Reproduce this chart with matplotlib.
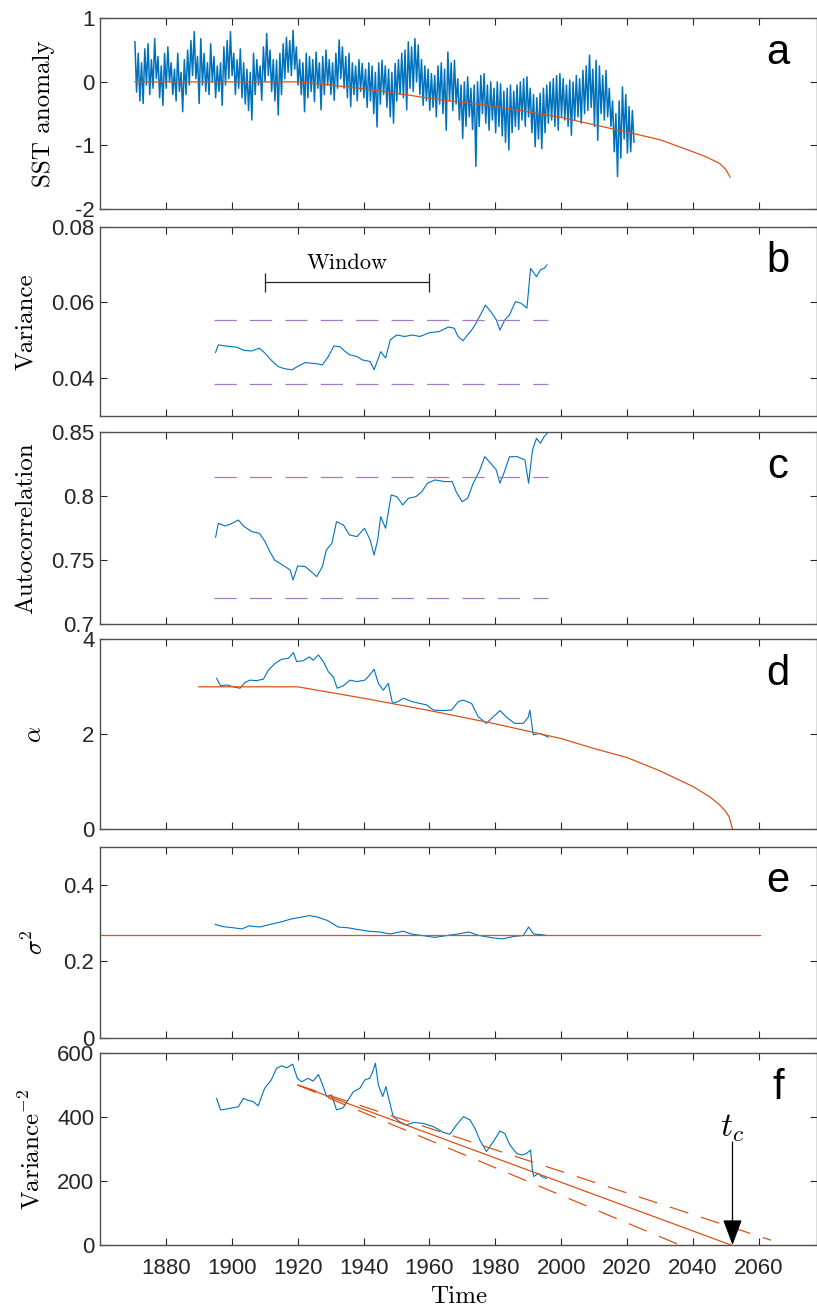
import numpy as np
import matplotlib.pyplot as plt

plt.rcParams['font.family'] = 'Liberation Sans'
plt.rcParams['mathtext.fontset'] = 'cm'
plt.rcParams['axes.unicode_minus'] = False
plt.rcParams['lines.scale_dashes'] = False

BLUE = '#0072BD'
ORANGE = '#D95319'
PURPLE = '#A47BC0'

# (a) SST anomaly: upper / lower swing read for each year, 1870.6 .. 2021
sst = [
    0.63, -0.16, 0.45, -0.30, 0.30, -0.34, 0.52, -0.05, 0.60, -0.20, 0.35, -0.10, 0.68, 0.05, 0.40, -0.25, 0.25, -0.37, 0.45, -0.10,
    0.55, 0.00, 0.30, -0.20, 0.20, -0.30, 0.45, -0.15, 0.15, -0.47, 0.35, -0.20, 0.50, -0.05, 0.65, 0.10, 0.79, 0.05, 0.40, -0.34,
    0.68, -0.05, 0.45, -0.15, 0.30, -0.20, 0.60, 0.00, 0.40, -0.25, 0.25, -0.15, 0.30, -0.37, 0.55, -0.05, 0.65, 0.05, 0.79, 0.10,
    0.45, -0.20, 0.35, -0.10, 0.52, -0.25, 0.30, -0.35, 0.20, -0.45, 0.15, -0.60, 0.45, -0.20, 0.35, -0.05, 0.25, -0.29, 0.55, 0.00,
    0.76, 0.10, 0.50, -0.15, 0.35, -0.30, 0.34, -0.52, 0.45, -0.20, 0.60, 0.05, 0.70, 0.15, 0.65, 0.10, 0.81, 0.20, 0.55, -0.05,
    0.35, -0.20, 0.30, -0.47, 0.45, -0.25, 0.40, -0.15, 0.35, -0.31, 0.47, -0.10, 0.30, -0.44, 0.40, -0.20, 0.50, -0.05, 0.35, -0.20,
    0.30, -0.29, 0.45, -0.10, 0.66, 0.05, 0.55, -0.10, 0.40, -0.25, 0.45, -0.39, 0.30, -0.20, 0.25, -0.30, 0.35, -0.15, 0.29, -0.25,
    0.20, -0.40, 0.30, -0.30, 0.25, -0.50, 0.15, -0.71, 0.30, -0.35, 0.34, -0.20, 0.25, -0.40, 0.20, -0.55, 0.15, -0.65, 0.29, -0.30,
    0.35, -0.20, 0.45, -0.25, 0.50, -0.44, 0.63, -0.10, 0.55, -0.15, 0.68, 0.00, 0.58, -0.20, 0.35, -0.37, 0.25, -0.30, 0.20, -0.45,
    0.13, -0.40, 0.10, -0.55, 0.25, -0.35, 0.30, -0.50, 0.20, -0.76, 0.47, -0.30, 0.30, -0.45, 0.34, -0.35, 0.05, -0.60, -0.05, -0.89,
    0.00, -0.70, 0.08, -0.55, -0.10, -0.75, -0.05, -1.33, 0.00, -0.70, 0.10, -0.50, 0.13, -0.65, -0.05, -0.76, 0.00, -0.60, -0.10, -0.80,
    0.00, -0.70, -0.03, -0.85, -0.15, -0.95, -0.10, -1.07, -0.05, -0.80, -0.15, -0.70, -0.05, -0.75, 0.00, -0.60, 0.05, -0.70, 0.08, -0.55,
    -0.10, -0.80, -0.20, -1.02, -0.25, -0.90, -0.18, -1.05, -0.10, -0.80, -0.05, -0.65, 0.00, -0.60, 0.05, -0.70, 0.10, -0.76, 0.13, -0.55,
    0.05, -0.60, -0.05, -0.70, 0.03, -0.84, 0.00, -0.60, 0.10, -0.55, 0.05, -0.65, 0.18, -0.50, 0.25, -0.45, 0.42, -0.40, 0.20, -0.70,
    0.34, -0.92, 0.25, -0.50, 0.10, -0.60, 0.18, -0.55, -0.10, -0.70, -0.30, -1.10, -0.50, -1.49, -0.30, -1.20, -0.08, -0.90, -0.20, -1.12,
    -0.39, -1.10, -0.45, -0.95,
]
sst_start = 1870.6
trend_years = [1870.6, 1900, 1920, 1930, 1940, 1954, 1960, 1978, 1984, 2000, 2020, 2030, 2040, 2044, 2048, 2050, 2051.3]
trend_sst = [0, 0, 0, -0.05, -0.11, -0.21, -0.26, -0.37, -0.42, -0.56, -0.79, -0.91, -1.10, -1.18, -1.28, -1.38, -1.50]

# (b) variance
var_years = [1895.1, 1895.9, 1898, 1901.4, 1903.8, 1906.1, 1908.4, 1910.1, 1911.9, 1914, 1915.9, 1918.3, 1920,
             1922.3, 1925.8, 1927.5, 1929.3, 1931, 1932.8, 1934.5, 1935.7, 1938, 1939.7, 1942, 1943.2, 1944.3,
             1945.2, 1946.7, 1948.1, 1950.1, 1952.5, 1954.8, 1957.1, 1960, 1962.9, 1965.8, 1967.5, 1968.7, 1970.2,
             1971.6, 1972.8, 1973.9, 1975.7, 1977, 1978.6, 1980.3, 1981.4, 1982.9, 1984.3, 1986.1, 1987.8, 1989.6,
             1990.7, 1992.5, 1993.7, 1994.8, 1995.7]
var_vals = [0.0468, 0.0488, 0.0485, 0.0482, 0.0473, 0.0472, 0.0479, 0.0466, 0.0448, 0.0431, 0.0425, 0.0422, 0.0431,
            0.0441, 0.0438, 0.0435, 0.0457, 0.0485, 0.0483, 0.0470, 0.0462, 0.0457, 0.0448, 0.0444, 0.0422, 0.0448,
            0.0470, 0.0453, 0.0501, 0.0514, 0.0510, 0.0514, 0.0510, 0.0520, 0.0523, 0.0535, 0.0532, 0.0510, 0.0499,
            0.0514, 0.0527, 0.0541, 0.0571, 0.0593, 0.0576, 0.0554, 0.0527, 0.0554, 0.0567, 0.0602, 0.0598, 0.0585,
            0.0690, 0.0668, 0.0686, 0.0690, 0.0699]
var_bounds = [0.0384, 0.0554]
window = [1910.1, 1960]

# (c) lag-1 autocorrelation
ac_years = [1895.1, 1895.9, 1898, 1899.7, 1902, 1903.8, 1906.1, 1908.4, 1910.1, 1911.3, 1913, 1915.4, 1917.7,
            1918.6, 1920, 1922.3, 1924.1, 1925.8, 1927.5, 1928.7, 1930.4, 1931.8, 1933.9, 1935.7, 1938, 1940.3,
            1942, 1943.2, 1944.3, 1945.2, 1946.7, 1948.4, 1950.1, 1951.9, 1953.6, 1955.9, 1957.7, 1959.4, 1961.7,
            1964.6, 1966.9, 1968.1, 1969.9, 1971.6, 1973.3, 1975.1, 1976.8, 1978.6, 1980.3, 1981.4, 1982.6, 1984.3,
            1986.7, 1989, 1990.1, 1991.3, 1992.5, 1993.7, 1994.8, 1996]
ac_vals = [0.7678, 0.7787, 0.7766, 0.7782, 0.7813, 0.7761, 0.7722, 0.7709, 0.7644, 0.7578, 0.7500, 0.7461, 0.7422,
           0.7343, 0.7453, 0.7448, 0.7409, 0.7369, 0.7448, 0.7578, 0.7631, 0.7800, 0.7774, 0.7696, 0.7683, 0.7748,
           0.7657, 0.7539, 0.7657, 0.7839, 0.7748, 0.8009, 0.7996, 0.7931, 0.7983, 0.7996, 0.8035, 0.8101, 0.8127,
           0.8114, 0.8114, 0.8035, 0.7957, 0.7983, 0.8101, 0.8192, 0.8309, 0.8257, 0.8205, 0.8101, 0.8179, 0.8309,
           0.8309, 0.8283, 0.8101, 0.8362, 0.8453, 0.8414, 0.8466, 0.8500]
ac_bounds = [0.720, 0.8153]

# (d) alpha estimate and model
alpha_years = [1895.4, 1896.6, 1898.4, 1900.5, 1902.5, 1904, 1905.5, 1907.5, 1909.6, 1911.1, 1913.1, 1915.1, 1917.2,
               1918.7, 1919.7, 1921.7, 1923.5, 1924.7, 1926.3, 1927.8, 1929.3, 1930.8, 1932, 1933.8, 1935.9, 1937.9,
               1940.4, 1941.9, 1943.2, 1944.5, 1946, 1947.5, 1948.8, 1950.5, 1952.1, 1954.6, 1957.1, 1959.1, 1961.2,
               1964.2, 1966.7, 1968.8, 1970.3, 1972.8, 1974.8, 1977.3, 1979.4, 1981.4, 1983.4, 1985.9, 1988.5, 1990,
               1990.5, 1991.5, 1993.5, 1996.1]
alpha_vals = [3.18, 3.02, 3.04, 3.00, 2.97, 3.09, 3.14, 3.13, 3.16, 3.35, 3.49, 3.58, 3.60,
              3.72, 3.53, 3.55, 3.63, 3.56, 3.67, 3.53, 3.32, 3.21, 2.97, 3.02, 3.14, 3.11,
              3.14, 3.25, 3.37, 3.07, 2.93, 3.07, 2.65, 2.69, 2.76, 2.69, 2.65, 2.62, 2.51,
              2.50, 2.51, 2.69, 2.72, 2.65, 2.37, 2.23, 2.37, 2.50, 2.36, 2.23, 2.23, 2.36,
              2.51, 1.99, 2.02, 1.94]
alpha_fit_years = [1890, 1920, 1940, 1960, 1980, 2000, 2010, 2020, 2030, 2040, 2045, 2048, 2050, 2051, 2052]
alpha_fit = [3.0, 3.0, 2.76, 2.50, 2.22, 1.91, 1.70, 1.51, 1.23, 0.90, 0.69, 0.52, 0.37, 0.26, 0.0]

# (e) noise level
s2_years = [1895, 1897.4, 1900.6, 1903, 1905.3, 1908.5, 1911.7, 1914.8, 1918, 1921.2, 1923.6, 1926, 1929.1,
            1932.3, 1935.4, 1938.6, 1941.8, 1944.9, 1948.1, 1952.1, 1954.4, 1957.6, 1961.6, 1965.5, 1968.7,
            1971.9, 1975, 1979, 1982.1, 1985.3, 1988.5, 1990.1, 1991.6, 1994, 1995.6]
s2_vals = [0.297, 0.291, 0.288, 0.285, 0.293, 0.290, 0.297, 0.303, 0.311, 0.316, 0.320, 0.316, 0.307,
           0.290, 0.288, 0.283, 0.279, 0.277, 0.272, 0.279, 0.272, 0.268, 0.263, 0.268, 0.272,
           0.277, 0.268, 0.262, 0.259, 0.265, 0.268, 0.290, 0.272, 0.270, 0.268]
s2_fit_years = [1860, 2060.5]
s2_fit = [0.268, 0.268]

# (f) inverse squared variance and linear extrapolation
inv_years = [1895.4, 1896.6, 1898.5, 1900.5, 1902, 1903.5, 1905, 1906.5, 1908, 1910, 1912, 1913.6, 1915.1, 1916.7,
             1918.5, 1919.9, 1921.2, 1923.2, 1924.7, 1926.3, 1927.6, 1928.8, 1930.3, 1931.8, 1933.8, 1935, 1936.9,
             1938.9, 1940.4, 1941.9, 1942.8, 1943.6, 1944.5, 1945.8, 1946.8, 1948, 1949, 1951, 1953, 1955.1, 1958.1,
             1961.2, 1964.2, 1966.2, 1968.2, 1970.3, 1972.3, 1973.8, 1975.3, 1977.3, 1979.4, 1981.4, 1982.9, 1984.4,
             1986.5, 1988, 1989.5, 1990.7, 1991.3, 1991.7, 1993, 1994, 1995.5]
inv_vals = [458, 422, 425, 429, 432, 458, 452, 448, 435, 490, 516, 552, 560, 554,
            565, 521, 510, 521, 512, 533, 500, 464, 469, 422, 429, 448, 479,
            490, 516, 521, 542, 568, 500, 464, 495, 443, 401, 385, 375, 383, 380,
            370, 352, 346, 375, 401, 391, 365, 328, 292, 323, 356, 348, 313,
            286, 281, 286, 297, 229, 214, 224, 214, 208]
fit_years = [1920, 2051.5]
fit_vals = [500, 0]
upper_years = [1920, 2063.7]
upper_vals = [500, 15]
lower_years = [1920, 2036]
lower_vals = [500, 0]
t_c = 2052

xticks = [1880, 1900, 1920, 1940, 1960, 1980, 2000, 2020, 2040, 2060]

# panel extents in pixels (top, bottom) and ylabel right edge in pixels
W, H = 817, 1310
extents = [(18.3, 209), (226.7, 416), (432.3, 623.8), (639.3, 829.3), (846.7, 1038), (1053, 1245)]
ylabel_px = [55, 37, 37, 46, 48, 44]

fig = plt.figure(figsize=(W / 100, H / 100), dpi=100)
axes = []
for (top, bot), lx in zip(extents, ylabel_px):
    ax = fig.add_axes([100 / W, 1 - bot / H, 716.5 / W, (bot - top) / H])
    ax.set_xlim(1860, 2077.5)
    ax.set_xticks(xticks)
    ax.tick_params(direction='in', length=5, width=0.8, top=True, right=True,
                   labelsize=16, colors='#262626')
    ax.tick_params(axis='x', pad=9)
    ax.tick_params(axis='y', pad=4)
    ax.yaxis.set_label_coords((lx - 100) / 716.5, 0.5)
    for s in ax.spines.values():
        s.set_color('#505050')
        s.set_linewidth(1.0)
    axes.append(ax)
ax_a, ax_b, ax_c, ax_d, ax_e, ax_f = axes
for ax in axes[:-1]:
    ax.set_xticklabels([])

label_kw = dict(fontfamily='cmr10', fontsize=18)

# a
sst_t = sst_start + 0.5 * np.arange(len(sst))
ax_a.plot(sst_t, sst, color=BLUE, lw=1.1)
ax_a.plot(trend_years, trend_sst, color=ORANGE, lw=0.9)
ax_a.set_ylim(-2, 1)
ax_a.set_yticks([-2, -1, 0, 1])
ax_a.set_ylabel('SST anomaly', **label_kw)

# b
ax_b.plot(var_years, var_vals, color=BLUE, lw=0.8)
for v in var_bounds:
    ax_b.plot([1894.5, 1996], [v, v], color=PURPLE, lw=0.9, dashes=(16, 9.5))
ax_b.plot(window, [0.0653, 0.0653], color='#222222', lw=0.9)
ax_b.vlines(window, 0.0627, 0.0679, color='#222222', lw=0.9)
ax_b.text(sum(window) / 2, 0.0703, 'Window', ha='center', va='center', fontfamily='cmr10', fontsize=16)
ax_b.set_ylim(0.03, 0.08)
ax_b.set_yticks([0.04, 0.06, 0.08])
ax_b.set_yticklabels(['0.04', '0.06', '0.08'])
ax_b.set_ylabel('Variance', **label_kw)

# c
ax_c.plot(ac_years, ac_vals, color=BLUE, lw=0.8)
for v in ac_bounds:
    ax_c.plot([1894.5, 1996], [v, v], color=PURPLE, lw=0.9, dashes=(16, 9.5))
ax_c.set_ylim(0.7, 0.85)
ax_c.set_yticks([0.7, 0.75, 0.8, 0.85])
ax_c.set_yticklabels(['0.7', '0.75', '0.8', '0.85'])
ax_c.set_ylabel('Autocorrelation', **label_kw)

# d
ax_d.plot(alpha_years, alpha_vals, color=BLUE, lw=0.8)
ax_d.plot(alpha_fit_years, alpha_fit, color=ORANGE, lw=0.9)
ax_d.set_ylim(0, 4)
ax_d.set_yticks([0, 2, 4])
ax_d.set_ylabel(r'$\alpha$', fontsize=18)

# e
ax_e.plot(s2_years, s2_vals, color=BLUE, lw=0.8)
ax_e.plot(s2_fit_years, s2_fit, color=ORANGE, lw=0.9)
ax_e.set_ylim(0, 0.5)
ax_e.set_yticks([0, 0.2, 0.4])
ax_e.set_yticklabels(['0', '0.2', '0.4'])
ax_e.set_ylabel(r'$\sigma^2$', fontsize=18)

# f
ax_f.plot(inv_years, inv_vals, color=BLUE, lw=0.8)
ax_f.plot(fit_years, fit_vals, color=ORANGE, lw=0.9)
ax_f.plot(upper_years, upper_vals, color=ORANGE, lw=0.9, dashes=(14, 9.5))
ax_f.plot(lower_years, lower_vals, color=ORANGE, lw=0.9, dashes=(14, 9.5))
ax_f.annotate('', xy=(t_c, 0), xytext=(t_c, 322),
              arrowprops=dict(arrowstyle='-|>,head_length=0.8,head_width=0.3', color='k',
                              lw=0.9, shrinkA=0, shrinkB=0, mutation_scale=20))
ax_f.text(t_c, 365, r'$t_c$', ha='center', va='center', fontsize=24)
ax_f.set_ylim(0, 600)
ax_f.set_yticks([0, 200, 400, 600])
ax_f.set_ylabel('Variance$^{-2}$', **label_kw)
ax_f.set_xlabel('Time', **label_kw)
ax_f.xaxis.set_label_coords(0.5, -(1286 - 1245) / 192)

for ax, letter in zip(axes, 'abcdef'):
    ax.text(0.946, 0.762, letter, transform=ax.transAxes, ha='center', va='baseline',
            fontsize=30, color='black')

fig.savefig('out.png', dpi=100)
